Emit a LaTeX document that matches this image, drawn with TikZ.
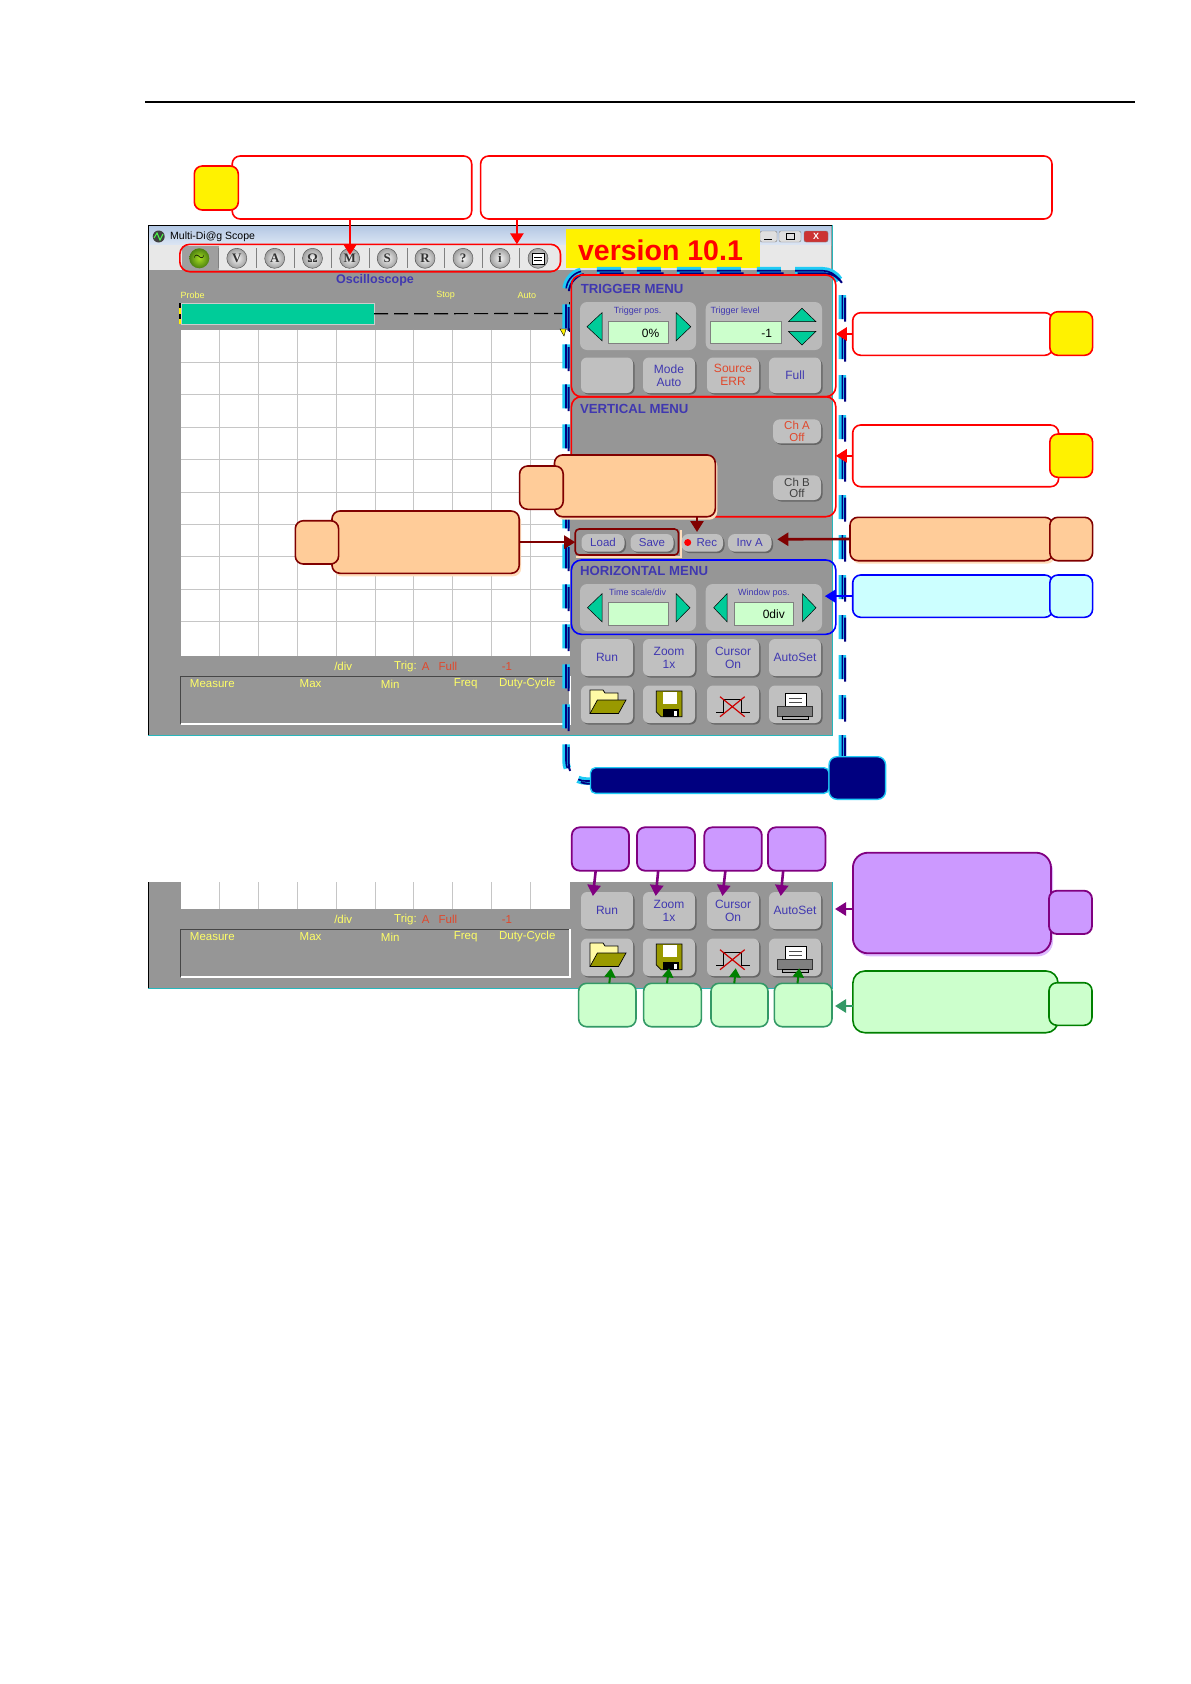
\documentclass[tikz,border=0pt]{standalone}
\usepackage{fontspec}
\setmainfont{Liberation Sans}
\newfontfamily\ballfont{Liberation Serif}
\usetikzlibrary{arrows.meta,shadows}
\definecolor{scopegray}{HTML}{969696}
\definecolor{keygray}{HTML}{C0C0C0}
\definecolor{keyedge}{HTML}{666666}
\definecolor{inkblue}{HTML}{4038B0}
\definecolor{inkred}{HTML}{E0482C}
\definecolor{inkyellow}{HTML}{FFFF66}
\definecolor{lcd}{HTML}{CCFFCC}
\definecolor{arrowgreen}{HTML}{00CC99}
\definecolor{peach}{HTML}{FFCC99}
\definecolor{peachglow}{HTML}{FFDDBB}
\definecolor{darkred}{HTML}{800000}
\definecolor{icecyan}{HTML}{CCFFFF}
\definecolor{navy}{HTML}{000080}
\definecolor{skyline}{HTML}{1FCBF5}
\definecolor{lilac}{HTML}{CC99FF}
\definecolor{lilacglow}{HTML}{DDBBFF}
\definecolor{plum}{HTML}{800080}
\definecolor{leaf}{HTML}{008000}
\definecolor{teal}{HTML}{339966}
\definecolor{olive}{HTML}{999900}
\definecolor{titletop}{HTML}{B4C8E4}
\definecolor{titlelow}{HTML}{DCE6F4}
\definecolor{lime}{HTML}{A4DC20}
\definecolor{limeedge}{HTML}{4C8010}
\begin{document}
\begin{tikzpicture}[x=1pt,y=-1pt,
    boxat/.style args={#1/#2/#3/#4}{at={({((#1)+(#3))/2},{((#2)+(#4))/2})},minimum width={((#3)-(#1))*1pt},minimum height={((#4)-(#2))*1pt},inner sep=0pt,outer sep=0pt},
    callout/.style={rounded corners=8pt,line width=1.6pt},
    redbox/.style={callout,draw=red,fill=white},
    yellowtag/.style={callout,draw=red,fill=yellow},
    peachbox/.style={callout,draw=darkred,fill=peach,drop shadow={shadow xshift=2pt,shadow yshift=-3pt,fill=peachglow,opacity=1}},
    peachtag/.style={callout,draw=darkred,fill=peach},
    icebox/.style={callout,draw=blue,fill=icecyan},
    lilacbox/.style={callout,line width=1.8pt,draw=plum,fill=lilac},
    greenbox/.style={callout,draw=teal,fill=lcd},
    menubox/.style={rounded corners=10pt,line width=1.6pt},
    link/.style={line width=2.6pt,-{Triangle[length=11pt,width=13pt]}},
    key/.style={rounded corners=6pt,fill=keygray,text=inkblue,align=center,font=\fontsize{12}{13}\selectfont,drop shadow={shadow xshift=1.5pt,shadow yshift=-1.5pt,fill=keyedge,opacity=1}},
    smallkey/.style={key,rounded corners=7pt,font=\fontsize{11.5}{11.5}\selectfont},
    knob/.style={rounded corners=7pt,fill=keygray!85!scopegray},
    lcdbox/.style={fill=lcd,draw=gray,line width=.6pt},
    ball/.style={circle,minimum size=20pt,inner sep=0pt,inner color=gray!8,outer color=gray!75,draw=gray!70!black,line width=.5pt,text=black!80,font=\ballfont\bfseries\fontsize{13}{13}\selectfont},
    label/.style={inner sep=0pt,font=\fontsize{11.5}{12}\selectfont},
    scopelabel/.style={label,text=inkyellow},
    menutitle/.style={inner sep=0pt,anchor=west,text=inkblue,font=\bfseries\fontsize{13.2}{13}\selectfont},
    hint/.style={inner sep=0pt,text=inkblue,font=\fontsize{9}{10}\selectfont},
    triangle/.style={fill=arrowgreen,draw=black,line width=.5pt}]

  \useasboundingbox (0,0) rectangle (1191,1684);
  \draw[line width=2.6pt] (145,102) -- (1135,102);

  % scope window
  \fill[scopegray] (148,225) rectangle (832,735);
  \shade[top color=titletop,bottom color=titlelow] (149,226) rectangle (831,245);
  \fill[gray!18] (149,245) rectangle (831,270);
  \draw[line width=1pt] (148,735) -- (148,225) -- (832,225);
  \draw[line width=1pt,teal!40!skyline] (148,735.5) -- (832,735.5) -- (832,225);
  \fill[gray!50!black] (158.7,236.5) circle (6pt);
  \draw[green!70,line width=1pt] (154,238) -- (157,233) -- (160,240) -- (163,234);
  \node[inner sep=0pt,anchor=west,font=\fontsize{10.5}{11}\selectfont] (title) at (170,237) {Multi-Di@g Scope};
  \node[boxat={760/231/777/242},fill=gray!25,draw=gray,rounded corners=2pt] (minkey) {};
  \node[boxat={779/231/801/242},fill=gray!25,draw=gray,rounded corners=2pt] (maxkey) {};
  \node[boxat={804/231/828/242},fill=red!60!gray,draw=gray,rounded corners=2pt,text=white,font=\bfseries\fontsize{9}{9}\selectfont] (closekey) {X};
  \draw[line width=.8pt] (786,233.5) rectangle (794,239.5);
  \draw[line width=.8pt] (764,239) -- (772,239);

  % toolbar
  \fill[gray!75] (182.4,246) rectangle (218.8,270);
  \foreach \x in {218.8,256.7,294.6,331.7,369.6,407,444.6,482.8,519.6}
    \draw[gray,line width=.8pt] (\x,248) -- (\x,268);
  \node[circle,minimum size=20pt,inner sep=0pt,inner color=lime,outer color=limeedge,font=\bfseries\fontsize{14}{14}\selectfont] (sine) at (199.3,258.3) {$\sim$};
  \foreach \name/\x/\glyph in {volt/236.8/V,amp/274.7/A,ohm/312.5/Ω,meter/349.7/M,spec/387.2/S,rec/425/R,help/463/?,info/500/i}
    \node[ball] (\name) at (\x,258.3) {\glyph};
  \node[ball] (swap) at (538,258.3) {};
  \draw[fill=white,line width=1pt] (532,253) rectangle (544,264);
  \draw[line width=.8pt] (534,257) -- (542,257) (534,260.5) -- (542,260.5);

  % plot area
  \node[inner sep=0pt,text=inkblue,font=\bfseries\fontsize{12.5}{13}\selectfont] (mode) at (375,280.5) {Oscilloscope};
  \node[hint,text=inkyellow,anchor=west] (probe) at (180.5,295.7) {Probe};
  \node[hint,text=inkyellow] (stop) at (445.7,295.7) {Stop};
  \node[hint,text=inkyellow] (auto) at (526.9,295.7) {Auto};
  \fill[white] (180.5,329.5) rectangle (570,655.5);
  \foreach \x in {219.6,258.6,297.2,336.7,375.3,413.6,452.6,491.6,530.7}
    \draw[gray!45,line width=.8pt] (\x,329.5) -- (\x,655.5);
  \foreach \y in {362.3,394.3,427.3,459.3,492.3,524.3,556.3,589.3,621.3}
    \draw[gray!45,line width=.8pt] (180.5,\y) -- (570,\y);
  \node[boxat={181.5/303/374/324.5},fill=arrowgreen,draw=gray!40,line width=.8pt] (buffer) {};
  \draw[line width=1.2pt,dash pattern=on 14pt off 6pt] (buffer.east) -- (569,313.5);
  \draw[line width=1.8pt] (569.5,302) -- (569.5,332);
  \draw[line width=2pt,yellow] (180,303) -- (180,324);
  \draw[line width=2pt,dash pattern=on 5pt off 6pt] (180,303) -- (180,324);
  \fill[yellow,draw=black,line width=.4pt] (560,329) -- (566,329) -- (564,336) -- cycle;

  % strip below the plot, drawn twice
  \fill[scopegray] (148,882) rectangle (832,988);
  \draw[line width=1pt] (148.5,882) -- (148.5,988);
  \draw[line width=1pt,teal!40!skyline] (148,988.3) -- (832,988.3) -- (832,882);
  \fill[white] (180.5,882) rectangle (570,908.5);
  \foreach \x in {219.6,258.6,297.2,336.7,375.3,413.6,452.6,491.6,530.7}
    \draw[gray!45,line width=.8pt] (\x,882) -- (\x,908.5);
  \foreach \dy/\tag in {0/a,253/b}{
    \draw[gray!55!black,line width=.8pt] (180.5,{\dy+724}) |- (570,{\dy+676});
    \draw[white,line width=1.5pt] (180.5,{\dy+724}) -- (570,{\dy+724}) -- (570,{\dy+676});
    \node[scopelabel] (div\tag) at (343.2,{\dy+666.7}) {/div};
    \node[scopelabel,anchor=west] (trig\tag) at (394,{\dy+666.7}) {Trig:};
    \node[label,text=inkred,anchor=west] (chan\tag) at (421.6,{\dy+666.7}) {A};
    \node[label,text=inkred,anchor=west] (full\tag) at (438.5,{\dy+666.7}) {Full};
    \node[label,text=inkred] (level\tag) at (507,{\dy+666.7}) {-1};
    \node[scopelabel] (measure\tag) at (212.3,{\dy+684}) {Measure};
    \node[scopelabel] (max\tag) at (310.6,{\dy+684}) {Max};
    \node[scopelabel] (min\tag) at (390.2,{\dy+684}) {Min};
    \node[scopelabel] (freq\tag) at (465.6,{\dy+684}) {Freq};
    \node[scopelabel] (duty\tag) at (527.3,{\dy+684}) {Duty-Cycle};
    \node[key,boxat={581/\dy+639/633/\dy+676}] (run\tag) {Run};
    \node[key,boxat={643/\dy+639/695/\dy+676}] (zoom\tag) {Zoom\\1x};
    \node[key,boxat={707/\dy+639/759/\dy+676}] (cursor\tag) {Cursor\\On};
    \node[key,boxat={769/\dy+639/821/\dy+676}] (autoset\tag) {AutoSet};
    \node[key,boxat={581/\dy+685.5/633/\dy+723}] (open\tag) {};
    \node[key,boxat={643/\dy+685.5/695/\dy+723}] (save\tag) {};
    \node[key,boxat={707/\dy+685.5/759/\dy+723}] (clear\tag) {};
    \node[key,boxat={769/\dy+685.5/821/\dy+723}] (print\tag) {};
    \begin{scope}[shift={(0,\dy)}]
      % folder
      \draw[fill=yellow!35,line width=.7pt] (590,713) -- (590,690) -- (603,690) -- (605,693) -- (618,693) -- (618,713) -- cycle;
      \draw[fill=olive,line width=.7pt] (597.4,700) -- (626,700) -- (618.5,713.5) -- (590,713.5) -- cycle;
      % floppy
      \draw[fill=olive,line width=.7pt] (656.3,691) -- (682,691) -- (682,716.7) -- (661,716.7) -- (656.3,712) -- cycle;
      \fill[white] (662.5,691.5) rectangle (677,704.3);
      \fill[black] (663,709) rectangle (678.5,716.7);
      \fill[white] (674,710.5) rectangle (676.5,715.5);
      % pulse
      \draw[line width=1pt] (716,712) -- (723.7,712) -- (723.7,699.3) -- (741,699.3) -- (741,712) -- (749.7,712);
      \draw[red!80!black,line width=1.2pt] (720,696.7) -- (744.7,716.7) (744.7,696.7) -- (720,716.7);
      % printer
      \draw[fill=white,line width=.5pt] (785,693.3) rectangle (806,707);
      \draw[gray!60!black,line width=.7pt] (789,698) -- (802,698) (789,702.5) -- (802,702.5);
      \draw[fill=gray,draw=gray!40!black,line width=.5pt] (777.3,706.7) rectangle (812.5,716);
      \draw[fill=gray!60,line width=.5pt] (782,716) rectangle (808,719);
    \end{scope}
  }

  % trigger menu
  \node[knob,boxat={580/302/696/350}] (trigpos) {};
  \node[knob,boxat={705.7/302/822/350}] (triglevel) {};
  \node[hint] (trigpostext) at (637.6,311) {Trigger pos.};
  \node[hint,anchor=west] (triglevtext) at (710.3,311) {Trigger level};
  \node[lcdbox,boxat={608.5/321.7/667.8/343.3}] (trigposlcd) {};
  \node[lcdbox,boxat={710.3/321.7/781.5/343.3}] (triglevlcd) {};
  \node[label,anchor=east,font=\fontsize{12}{12}\selectfont] (trigposval) at (659.4,333) {0\%};
  \node[label,anchor=east,font=\fontsize{12}{12}\selectfont] (triglevval) at (772.3,333) {-1};
  \draw[triangle] (587,326.7) -- (602,312.7) -- (602,340.7) -- cycle;
  \draw[triangle] (690.8,326.7) -- (676.2,312.7) -- (676.2,340.7) -- cycle;
  \draw[triangle] (802,308.3) -- (816,321.7) -- (788.4,321.7) -- cycle;
  \draw[triangle] (802,345) -- (816,331.3) -- (788.4,331.3) -- cycle;
  \node[key,boxat={581/357.5/633/393}] (blank) {};
  \node[key,boxat={643/357.5/695/393}] (modekey) {Mode\\Auto};
  \node[key,boxat={707/357.5/759/393},text=inkred] (source) {Source\\ERR};
  \node[key,boxat={769/357.5/821/393}] (fullkey) {Full};

  % vertical menu
  \node[smallkey,boxat={773/419.3/821/443.3},text=inkred] (cha) {Ch A\\Off};
  \node[smallkey,boxat={773/475.3/821/500},text=black!75] (chb) {Ch B\\Off};

  % load, save, rec
  \draw[peachglow,line width=2pt] (576,557) -- (680.5,557) -- (680.5,530);
  \node[smallkey,boxat={581.5/534/624.5/551.7}] (load) {Load};
  \node[smallkey,boxat={630.5/534/673.5/551.7}] (savekey) {Save};
  \node[smallkey,boxat={681.6/534/723/551.7}] (reckey) {\hspace{9pt}Rec};
  \node[smallkey,boxat={728/534/771.5/551.7}] (inva) {Inv A};
  \fill[red] (687.7,542.5) circle (3.5pt);

  % horizontal menu
  \node[knob,boxat={580/584/696/631}] (timescale) {};
  \node[knob,boxat={705.7/584/822/631}] (winpos) {};
  \node[hint] (timetext) at (637.6,592.7) {Time scale/div};
  \node[hint] (wintext) at (763.9,592.7) {Window pos.};
  \node[lcdbox,boxat={608.5/602.7/667.8/625.3}] (timelcd) {};
  \node[lcdbox,boxat={734.4/602.7/793.7/625.3}] (winlcd) {};
  \node[label,anchor=east,font=\fontsize{12}{12}\selectfont] (winval) at (785,614) {0div};
  \draw[triangle] (587.5,607.7) -- (602,593.7) -- (602,621.7) -- cycle;
  \draw[triangle] (690,607.7) -- (676.2,593.7) -- (676.2,621.7) -- cycle;
  \draw[triangle] (713.7,607.7) -- (727,593.7) -- (727,621.7) -- cycle;
  \draw[triangle] (816,607.7) -- (802.5,593.7) -- (802.5,621.7) -- cycle;

  % version stamp
  \fill[yellow] (565.5,229) rectangle (760,268.3);
  \node[inner sep=0pt,text=red,font=\bfseries\fontsize{28.5}{29}\selectfont] (version) at (660.5,250) {version 10.1};

  % dashed frame
  \foreach \ink/\wide/\off in {skyline/7.5pt/0,navy/1.6pt/0,navy/2pt/2.7}{
    \draw[\ink,line width=\wide,rounded corners=20pt,dash pattern=on 24pt off 16pt,shift={(\off-3,\off-3)}]
      (605,784) -- (569,784) -- (569,273.7) -- (784,273.7) (845.3,298) -- (845.3,760);
    \draw[\ink,line width=\wide,shift={(\off-3,\off-3)}]
      (798,273.7) -- (825.3,273.7) arc[start angle=-90,end angle=-32,radius=20];
  }

  % menu frames
  \node[boxat={179.8/244.3/560.5/271.7},draw=red,rounded corners=10pt,line width=1.6pt] (toolbar) {};
  \node[menubox,boxat={571.4/275/835.8/396.7},draw=red] (trigmenu) {};
  \node[menubox,boxat={571.4/396.7/835.8/516.7},draw=red] (vertmenu) {};
  \node[menubox,boxat={571.4/560/835.8/634.3},draw=blue] (horzmenu) {};
  \node[boxat={575.2/529/678.5/555},draw=darkred,rounded corners=4pt,line width=1.6pt] (filekeys) {};
  \node[menutitle] (trigtitle) at (580.6,289) {TRIGGER MENU};
  \node[menutitle] (verttitle) at (579.8,409.3) {VERTICAL MENU};
  \node[menutitle] (horztitle) at (579.8,570.7) {HORIZONTAL MENU};

  % callouts
  \node[redbox,boxat={232.2/156/471.7/219}] (toolbox) {};
  \node[yellowtag,boxat={194.3/166/238.3/210}] (tooltag) {};
  \node[redbox,boxat={480.6/156/1052/219}] (swapbox) {};
  \node[redbox,boxat={852.7/312.7/1052.8/355.3}] (trigbox) {};
  \node[yellowtag,boxat={1049.8/311.7/1092.6/355.3}] (trigtag) {};
  \node[redbox,boxat={852.7/425/1058.6/486.7}] (vertbox) {};
  \node[yellowtag,boxat={1049.8/434/1092.6/477.3}] (verttag) {};
  \node[peachbox,boxat={554.5/455/715.3/516.7}] (vertnote) {};
  \node[peachtag,boxat={519.6/466/563.2/509.3}] (vertnotetag) {};
  \node[peachbox,boxat={332/511/519.2/573.3}] (filebox) {};
  \node[peachtag,boxat={295.3/520.7/338.6/564}] (filetag) {};
  \node[peachbox,boxat={850/517.3/1052.8/560.7}] (invbox) {};
  \node[peachtag,boxat={1049.8/517.3/1092.6/560.7}] (invtag) {};
  \node[icebox,boxat={852.7/575/1052.8/617.3}] (horzbox) {};
  \node[icebox,boxat={1049.8/575/1092.6/617.3}] (horztag) {};
  \node[boxat={590.5/767.7/829/793.3},fill=navy,draw=skyline,rounded corners=5pt,line width=1.4pt] (navybox) {};
  \node[boxat={829/756.7/885.6/799.3},fill=navy,draw=skyline,rounded corners=8pt,line width=1.4pt] (navytag) {};
  \node[lilacbox,boxat={571.8/827.3/629/870.7}] (runbox) {};
  \node[lilacbox,boxat={637/827.3/695/870.7}] (zoombox) {};
  \node[lilacbox,boxat={704.3/827.3/761.8/870.7}] (cursorbox) {};
  \node[lilacbox,boxat={767.9/827.3/825.4/870.7}] (autobox) {};
  \node[lilacbox,rounded corners=15pt,boxat={852.9/852.7/1051/953.3},drop shadow={shadow xshift=2pt,shadow yshift=-3pt,fill=lilacglow,opacity=1}] (keybox) {};
  \node[lilacbox,boxat={1049/890.7/1092/934}] (keytag) {};
  \node[greenbox,boxat={578.6/983.3/636/1026.7}] (openbox) {};
  \node[greenbox,boxat={643.6/983.3/701.4/1026.7}] (savebox) {};
  \node[greenbox,boxat={711/983.3/768/1026.7}] (clearbox) {};
  \node[greenbox,boxat={774.3/983.3/832/1026.7}] (printbox) {};
  \node[greenbox,draw=leaf,rounded corners=12pt,boxat={852.9/971/1058/1032.7}] (filesbox) {};
  \node[greenbox,draw=leaf,boxat={1049/982.7/1092/1025.3}] (filestag) {};

  % connectors
  \coordinate (meterend) at (350,255);
  \coordinate (swapend) at (516.9,244.3);
  \coordinate (recend) at (697,532);
  \coordinate (invend) at (777.3,539.3);
  \coordinate (keyend) at (835,909);
  \coordinate (filesend) at (835,1006);
  \draw[link,red] (toolbox.south -| meterend) -- (meterend);
  \draw[link,red] (swapbox.south -| swapend) -- (swapend);
  \draw[link,red] (trigbox.west) -- (trigmenu.east |- trigbox.west);
  \draw[link,red] (vertbox.west) -- (vertmenu.east |- vertbox.west);
  \draw[link,darkred] (filebox.east) -- (filekeys.west |- filebox.east);
  \draw[link,darkred] (vertnote.south -| recend) -- (recend);
  \draw[link,darkred] (invbox.west) -- (invend);
  \draw[link,blue] (horzbox.west) -- ([xshift=-11pt]horzmenu.east |- horzbox.west);
  \draw[link,plum] (keybox.west |- keyend) -- (keyend);
  \draw[link,teal] (filesbox.west |- filesend) -- (filesend);
  \foreach \from/\sx/\ex in {runbox/595.7/592.9,zoombox/658.2/655.7,cursorbox/725.4/722.5,autobox/783.2/780.7}{
    \coordinate (\from end) at (\ex,896);
    \coordinate (\from start) at (\sx,870.7);
    \draw[link,plum] (\from start) -- (\from end);
  }
  \foreach \from/\sx/\ex in {openbox/609.3/611,savebox/667/669,clearbox/734.3/735.7,printbox/797.5/799.3}{
    \coordinate (\from end) at (\ex,968.3);
    \coordinate (\from start) at (\sx,983.3);
    \draw[link,leaf,line width=2pt,-{Triangle[length=9pt,width=11pt]}] (\from start) -- (\from end);
  }
\end{tikzpicture}
\end{document}
